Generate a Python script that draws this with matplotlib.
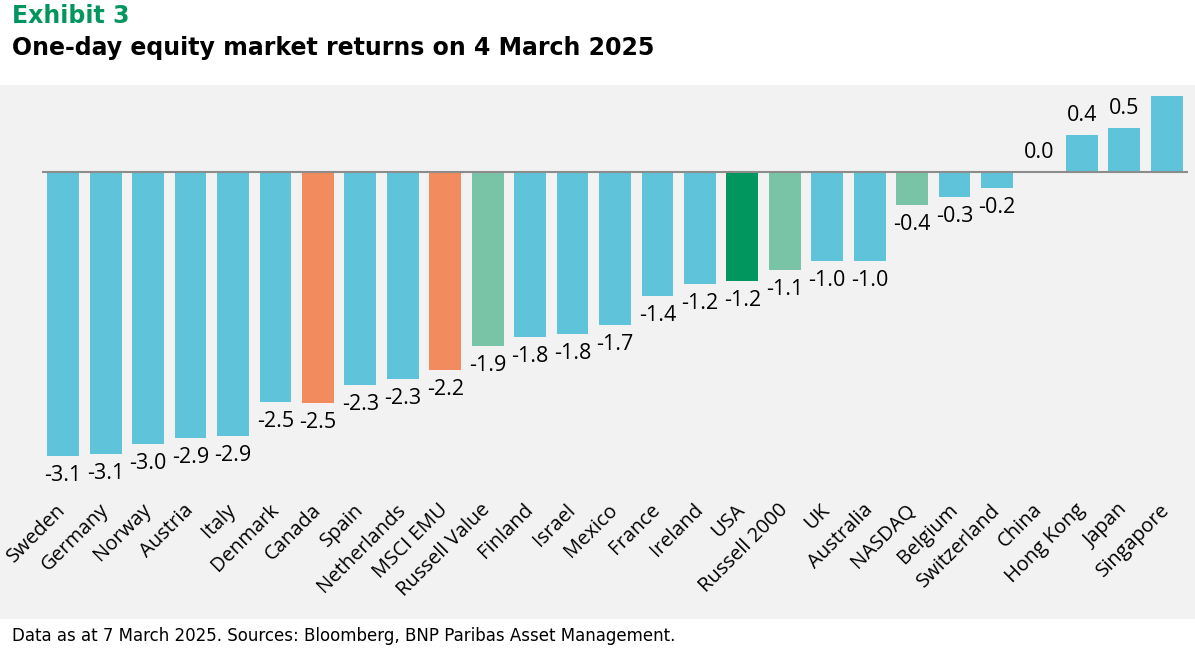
import matplotlib
matplotlib.use("Agg")
import matplotlib.pyplot as plt
from matplotlib import font_manager
from matplotlib.patches import Rectangle

categories = ["Sweden", "Germany", "Norway", "Austria", "Italy", "Denmark", "Canada",
              "Spain", "Netherlands", "MSCI EMU", "Russell Value", "Finland", "Israel",
              "Mexico", "France", "Ireland", "USA", "Russell 2000", "UK", "Australia",
              "NASDAQ", "Belgium", "Switzerland", "China", "Hong Kong", "Japan", "Singapore"]
values = [-3.1, -3.08, -2.97, -2.9, -2.88, -2.51, -2.52, -2.32, -2.26, -2.16, -1.9, -1.8,
          -1.77, -1.67, -1.35, -1.22, -1.19, -1.07, -0.97, -0.97, -0.36, -0.27, -0.17,
          0.0, 0.4, 0.48, 0.83]
labels = ["-3.1", "-3.1", "-3.0", "-2.9", "-2.9", "-2.5", "-2.5", "-2.3", "-2.3", "-2.2",
          "-1.9", "-1.8", "-1.8", "-1.7", "-1.4", "-1.2", "-1.2", "-1.1", "-1.0", "-1.0",
          "-0.4", "-0.3", "-0.2", "0.0", "0.4", "0.5", "0.8"]
groups = ["c", "c", "c", "c", "c", "c", "r", "c", "c", "r", "i", "c", "c", "c", "c", "c",
          "u", "i", "c", "c", "i", "c", "c", "c", "c", "c", "c"]

palette = {"c": "#5FC3D9", "r": "#F28B5E", "i": "#79C3A7", "u": "#00965E"}

names = {f.name for f in font_manager.fontManager.ttflist}
narrow = "Liberation Sans Narrow" if "Liberation Sans Narrow" in names else None
body_font = "Open Sans"

W, H = 1195, 652
fig = plt.figure(figsize=(W / 100, H / 100), dpi=100)
fig.patches.append(Rectangle((0, 1 - 619 / H), 1, (619 - 85) / H, transform=fig.transFigure,
                             facecolor="#F2F2F2", edgecolor="none", zorder=-10))

ax = fig.add_axes([42 / W, 1 - 500 / H, (1188 - 42) / W, (500 - 85) / H])
ax.patch.set_visible(False)
x = list(range(len(categories)))
ax.bar(x, values, width=0.75, color=[palette[g] for g in groups], zorder=2)
ax.axhline(0, color="#8C8C8C", lw=1.5, zorder=3)
ax.set_xlim(-0.5, len(categories) - 0.5)
ax.set_ylim(-3.58, 0.95)
for s in ax.spines.values():
    s.set_visible(False)
ax.set_yticks([])
ax.set_xticks(x)
ax.set_xticklabels(categories, rotation=45, ha="right", va="center", rotation_mode="anchor",
                   fontsize=14.5, family=body_font)
ax.tick_params(axis="x", length=0, pad=5)

for xi, v, lab in zip(x, values, labels):
    if v >= 0:
        ax.annotate(lab, (xi, v), xytext=(0, 9), textcoords="offset pixels", ha="center",
                    va="bottom", fontsize=15.5, family=body_font, clip_on=True, zorder=4)
    else:
        ax.annotate(lab, (xi, v), xytext=(0, -9), textcoords="offset pixels", ha="center",
                    va="top", fontsize=15.5, family=body_font, clip_on=True, zorder=4)

if narrow:
    tfont, tsize1, tsize2, fsize = narrow, 22, 22, 15
else:
    tfont, tsize1, tsize2, fsize = "DejaVu Sans", 17, 17, 12
fig.text(12 / W, 1 - 4 / H, "Exhibit 3", color="#00965E", fontsize=tsize1, fontweight="bold",
         family=tfont, ha="left", va="top")
fig.text(12 / W, 1 - 36 / H, "One-day equity market returns on 4 March 2025", color="black",
         fontsize=tsize2, fontweight="bold", family=tfont, ha="left", va="top")
fig.text(12 / W, 1 - 636 / H, "Data as at 7 March 2025. Sources: Bloomberg, BNP Paribas Asset Management.",
         color="black", fontsize=fsize, family=tfont, ha="left", va="center")

fig.savefig("out.png", dpi=100)
